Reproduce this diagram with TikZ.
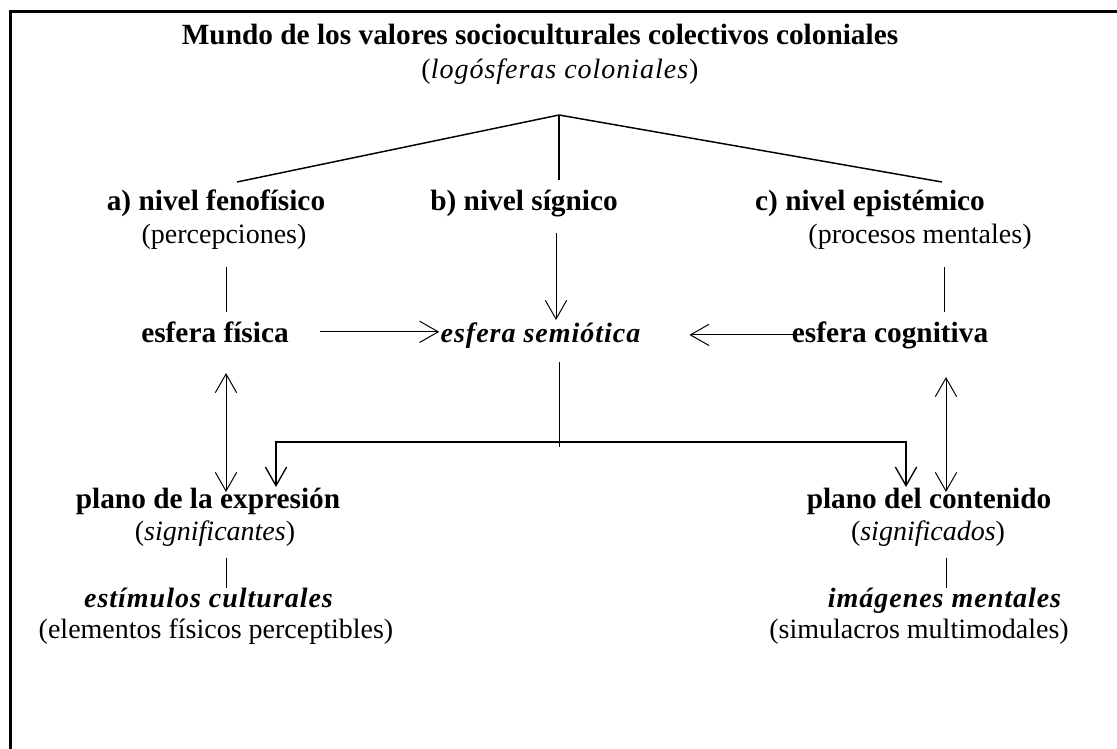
\documentclass[tikz,border=0pt]{standalone}
\usepackage{fontspec}
\setmainfont{Liberation Serif}
\newfontfamily\spaced[LetterSpace=3.5]{Liberation Serif}
\usepackage{tikz}
\usetikzlibrary{arrows.meta}
\tikzset{every picture/.style={line width=0.75pt}}
\tikzset{
  lbl/.style={inner sep=0.75pt, anchor=base, font=\fontsize{21}{25}\selectfont},
  hd/.style={inner sep=0.75pt, anchor=base, font=\fontsize{22}{26}\selectfont\bfseries},
  arr/.style={-{Straight Barb[length=14pt,width=16pt]}},
  dbl/.style={{Straight Barb[length=14pt,width=16pt]}-{Straight Barb[length=14pt,width=16pt]}}
}

\begin{document}
\begin{tikzpicture}[x=0.75pt,y=0.75pt,yscale=-1,xscale=1]
\useasboundingbox (0,0) rectangle (1117,749);
%Frame
\draw [line width=2.25pt] (1117,12) -- (10,12) -- (10,749) ;

\draw (540,45) node (title) [hd] {Mundo de los valores socioculturales colectivos coloniales};
\draw (560,79) node (logos) [lbl] {(\textit{\spaced logósferas coloniales})};
\coordinate (apex) at (559,115);

\draw (216,210) node (na) [hd] {a) nivel fenofísico};
\draw (224,243) node (nap) [lbl] {(percepciones)};
\draw (524,210) node (nb) [hd] {b) nivel sígnico};
\draw (870,210) node (nc) [hd] {c) nivel epistémico};
\draw (920,243) node (ncp) [lbl] {(procesos mentales)};

\draw (215,342) node (fis) [hd] {esfera física};
\draw (541,342) node (sem) [lbl] {\textbf{\textit{\spaced esfera semiótica}}};
\draw (890,342) node (cog) [hd] {esfera cognitiva};

\draw (208,508) node (expr) [hd] {plano de la expresión};
\draw (215,540) node (exprp) [lbl] {(\textit{significantes})};
\draw (209,607) node (estim) [lbl] {\textbf{\textit{\spaced estímulos culturales}}};
\draw (216,638) node (estimp) [lbl] {(elementos físicos perceptibles)};

\draw (929,508) node (cont) [hd] {plano del contenido};
\draw (928,540) node (contp) [lbl] {(\textit{significados})};
\draw (945,607) node (imag) [lbl] {\textbf{\textit{\spaced imágenes mentales}}};
\draw (919,638) node (imagp) [lbl] {(simulacros multimodales)};

%Tree
\draw [line width=1.1pt] (apex) -- ([shift={(21,-28)}]na.base) ;
\draw [line width=1.6pt] (apex) -- ([shift={(35,-30)}]nb.base) ;
\draw [line width=1.1pt] (apex) -- ([shift={(72,-28)}]nc.base) ;

\draw ([shift={(2,24)}]nap.base) -- ([shift={(11,-30)}]fis.base) ;
\draw ([shift={(24,24)}]ncp.base) -- ([shift={(54,-30)}]cog.base) ;
\draw [arr] ([shift={(32,23)}]nb.base) -- ([shift={(15,-22)}]sem.base) ;

\draw [arr] ([xshift=22pt]fis.east) -- (fis.east -| sem.west) ;
\draw [arr] ([xshift=4pt]cog.west) -- ([xshift=35pt]cog.west -| sem.east) ;

%Split
\draw ([shift={(18,20)}]sem.base) -- ([shift={(18,105)}]sem.base) ;
\draw [dbl, line width=1pt] ([shift={(68,-21)}]expr.base) |- ([shift={(-23,-66)}]cont.base) -- ([shift={(-23,-21)}]cont.base) ;

\draw [dbl] ([shift={(11,31)}]fis.base) -- ([shift={(18,-16)}]expr.base) ;
\draw [dbl] ([shift={(56,35)}]cog.base) -- ([shift={(17,-16)}]cont.base) ;

\draw ([shift={(11,18)}]exprp.base) -- ([shift={(17,-19)}]estim.base) ;
\draw ([shift={(18,18)}]contp.base) -- ([shift={(1,-19)}]imag.base) ;
\end{tikzpicture}
\end{document}
